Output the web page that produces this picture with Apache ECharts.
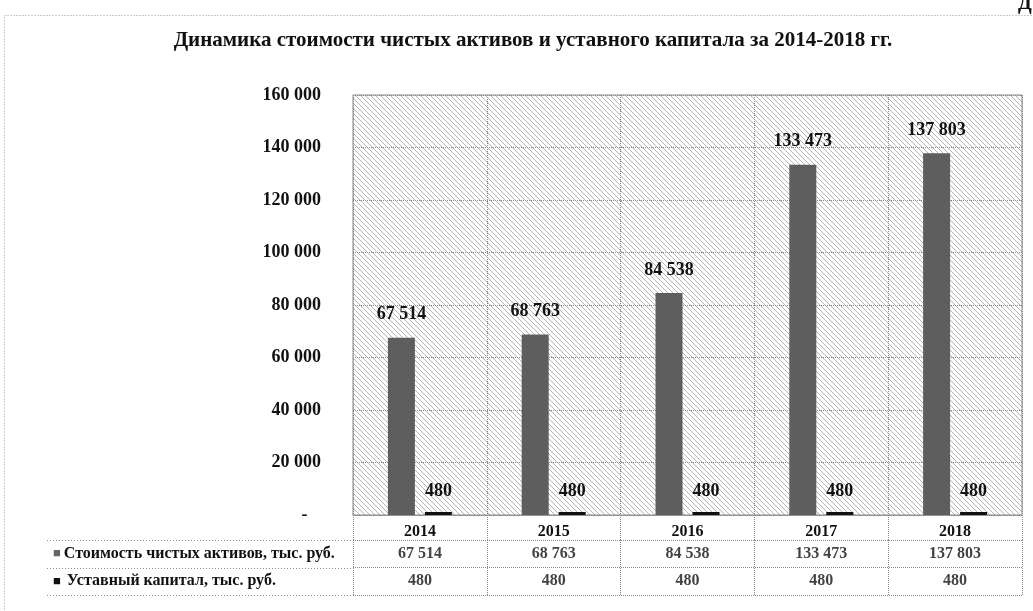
<!DOCTYPE html>
<html lang="ru">
<head>
    <meta charset="UTF-8" />
    <title>Динамика чистых активов</title>
    <script src="https://cdn.jsdelivr.net/npm/echarts@6/dist/echarts.min.js"></script>
    <style>
        html, body { margin: 0; padding: 0; background: #fff; }
        #lienzo { width: 1033px; height: 611px; }
    </style>
</head>
<body>
    <div id="lienzo"></div>
    <script>
        // datos
        let anios = ['2014', '2015', '2016', '2017', '2018'];
        let activos = [67514, 68763, 84538, 133473, 137803];
        let capital = [480, 480, 480, 480, 480];
        let filas = ['Стоимость чистых активов, тыс. руб.', 'Уставный капитал, тыс. руб.'];
        let ticksY = [0, 20000, 40000, 60000, 80000, 100000, 120000, 140000, 160000];

        const fuente = '"Liberation Serif", "DejaVu Serif", serif';
        const izq = 353, der = 11, arriba = 95, abajo = 515;
        const tablaTop = 540, tablaAlto = 55;

        function fmt(v) {
            return String(v).replace(/\B(?=(\d{3})+(?!\d))/g, ' ');
        }

        // fondo rayado
        function rayado() {
            let c = document.createElement('canvas');
            c.width = 5; c.height = 5;
            let ctx = c.getContext('2d');
            ctx.fillStyle = '#ffffff';
            ctx.fillRect(0, 0, 5, 5);
            ctx.strokeStyle = '#b4b4b4';
            ctx.lineWidth = 1;
            ctx.beginPath();
            ctx.moveTo(-1, -1); ctx.lineTo(6, 6);
            ctx.moveTo(-4, 1); ctx.lineTo(3, 8);
            ctx.moveTo(1, -4); ctx.lineTo(8, 3);
            ctx.stroke();
            return { image: c, repeat: 'repeat' };
        }

        let lineaGris = { color: '#8a8a8a', type: 'dotted', width: 1 };

        let myChart = echarts.init(document.getElementById('lienzo'));
        let filaY = [tablaTop, tablaTop + tablaAlto / 2, tablaTop + tablaAlto];

        myChart.setOption({
            animation: false,
            backgroundColor: '#fff',
            title: {
                text: 'Динамика стоимости чистых активов и уставного капитала за 2014-2018 гг.',
                left: 528, top: 25, textAlign: 'center',
                textStyle: { fontFamily: fuente, fontSize: 21, fontWeight: 'bold', color: '#111' }
            },
            grid: [
                { left: izq, right: der, top: arriba, bottom: 611 - abajo, show: true,
                  backgroundColor: rayado(), borderColor: '#8a8a8a', borderWidth: 1 },
                { left: izq, right: der, top: tablaTop, height: tablaAlto, show: true,
                  backgroundColor: '#fff', borderColor: '#8a8a8a', borderWidth: 0 }
            ],
            xAxis: [
                {
                    type: 'category', gridIndex: 0, data: anios,
                    axisLine: { lineStyle: lineaGris },
                    axisTick: { show: true, length: 25, interval: 0, lineStyle: lineaGris },
                    axisLabel: { margin: 9, fontFamily: fuente, fontSize: 16, fontWeight: 'bold', color: '#111' },
                    splitLine: { show: true, interval: 0, lineStyle: lineaGris }
                },
                {
                    type: 'category', gridIndex: 1, data: anios,
                    axisLine: { show: false }, axisTick: { show: false }, axisLabel: { show: false },
                    splitLine: { show: true, interval: 0, lineStyle: lineaGris }
                }
            ],
            yAxis: [
                {
                    type: 'value', gridIndex: 0, min: 0, max: 160000, interval: 20000,
                    axisLine: { show: false }, axisTick: { show: false },
                    axisLabel: {
                        margin: 32, fontFamily: fuente, fontSize: 18, fontWeight: 'bold', color: '#111',
                        formatter: (v) => v === 0 ? '-\u00a0\u00a0\u00a0' : fmt(v)
                    },
                    splitLine: { show: true, lineStyle: lineaGris }
                },
                {
                    type: 'category', gridIndex: 1, data: filas, inverse: true,
                    axisLine: { show: false }, axisTick: { show: false },
                    axisLabel: {
                        align: 'left', margin: 300, fontFamily: fuente, fontSize: 16, fontWeight: 'bold', color: '#111',
                        formatter: (v, i) => '{m' + i + '|■}' + v,
                        rich: {
                            m0: { color: '#666', fontSize: 13, padding: [0, 3, 0, 0] },
                            m1: { color: '#111', fontSize: 13, padding: [0, 6, 0, 0] }
                        }
                    },
                    splitLine: { show: true, interval: 0, lineStyle: lineaGris }
                }
            ],
            graphic: [
                { type: 'rect', silent: true, shape: { x: 4.5, y: 15.5, width: 1100, height: 700 },
                  style: { fill: 'none', stroke: '#999', lineWidth: 1, lineDash: [1, 2] } },
                { type: 'text', left: 1018, top: -6,
                  style: { text: 'Д', fontFamily: fuente, fontSize: 20, fontWeight: 'bold', fill: '#111' } }
            ].concat(filaY.map((y) => ({
                type: 'line', silent: true,
                shape: { x1: 47, y1: Math.round(y) + 0.5, x2: izq, y2: Math.round(y) + 0.5 },
                style: { stroke: '#8a8a8a', lineWidth: 1, lineDash: [1, 2] }
            }))),
            series: [
                {
                    name: filas[0], type: 'bar', xAxisIndex: 0, yAxisIndex: 0,
                    data: activos, barWidth: 27, barGap: '37%',
                    itemStyle: { color: '#5e5e5e' },
                    label: { show: true, position: 'top', distance: 14, formatter: (p) => fmt(p.value),
                             fontFamily: fuente, fontSize: 18, fontWeight: 'bold', color: '#111' }
                },
                {
                    name: filas[1], type: 'bar', xAxisIndex: 0, yAxisIndex: 0,
                    data: capital, barWidth: 27, barMinHeight: 3,
                    itemStyle: { color: '#111' },
                    label: { show: true, position: 'top', distance: 12, formatter: (p) => fmt(p.value),
                             fontFamily: fuente, fontSize: 18, fontWeight: 'bold', color: '#111' }
                },
                {
                    type: 'scatter', xAxisIndex: 1, yAxisIndex: 1, symbolSize: 0,
                    data: activos.map((v, i) => [i, 0, v]).concat(capital.map((v, i) => [i, 1, v])),
                    label: { show: true, position: 'inside', formatter: (p) => fmt(p.value[2]),
                             fontFamily: fuente, fontSize: 16, fontWeight: 'bold', color: '#111' }
                }
            ]
        });
    </script>
</body>
</html>
